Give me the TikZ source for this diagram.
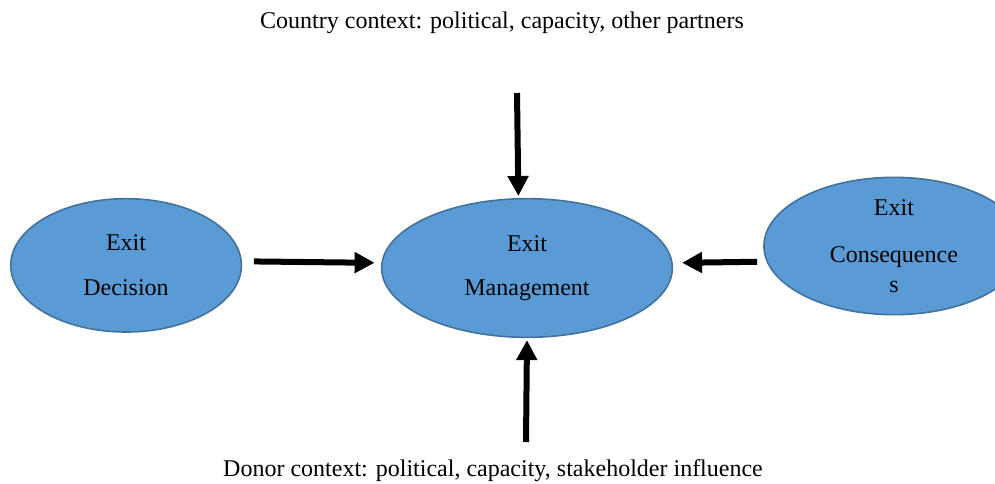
\documentclass[tikz,border=0pt]{standalone}
\usepackage{fontspec}
\setmainfont{Liberation Serif}
\usetikzlibrary{positioning}
\usetikzlibrary{arrows.meta}
\usetikzlibrary{shapes.geometric}
\definecolor{exitblue}{HTML}{5B9BD5}
\definecolor{exitline}{HTML}{41719C}

\begin{document}
\begin{tikzpicture}[
		x=0.75pt,y=-0.75pt,
		>={Triangle[length=15pt,width=15pt]},
		every node/.append style={
			font=\fontsize{18}{21.5}\selectfont,
			inner sep=0pt,
		},
		exitnode/.style={
			ellipse,
			draw=exitline,
			fill=exitblue,
			line width=1.2pt,
			align=center,
		},
		push/.style={->,line width=4.5pt},
	]
	\useasboundingbox (0,0) rectangle (995,483);
	\node[exitnode,minimum width=218pt,minimum height=104pt] (management) at (527,268) {Exit\\[12pt]Management};
	% left and right side of the picture
	\node[exitnode,minimum width=173pt,minimum height=100pt] (decision) [left=104pt of management,yshift=2pt] {Exit\\[12pt]Decision};
	\node[exitnode,minimum width=195pt,minimum height=103pt] (consequences) [right=67.5pt of management,yshift=16.5pt] {Exit\\[13.5pt]Consequence\\[1pt]s};
	% context labels
	\node (country) at (502,23) {Country context: political, capacity, other partners};
	\node (donor) at (493,471) {Donor context: political, capacity, stakeholder influence};
	\coordinate (countryarrow) at (517,93);
	\coordinate (donorarrow) at (526,442);
	% draw the connection lines
	\draw[push,shorten <=9pt,shorten >=5pt] (decision.2) -- (management.178);
	\draw[push,shorten <=7pt,shorten >=7pt] (consequences.187) -- (management.2);
	\draw[push,shorten >=1.5pt] (countryarrow) -- (management.97);
	\draw[push,shorten >=1.5pt] (donorarrow) -- (management.south);
\end{tikzpicture}
\end{document}
